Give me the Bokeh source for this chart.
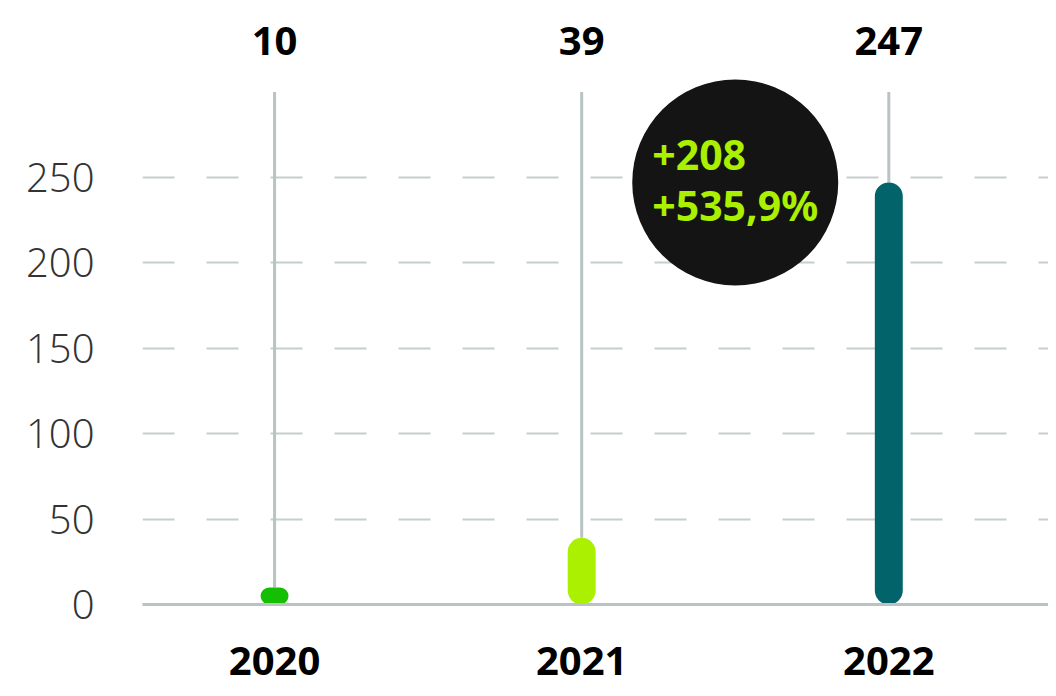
from bokeh.plotting import figure
from bokeh.models import Range1d, FixedTicker, LinearAxis, ColumnDataSource
from bokeh.core.properties import value
from bokeh.embed import file_html
from bokeh.resources import INLINE

years = ["2020", "2021", "2022"]
values = [10, 39, 247]
colors = ["#13bf00", "#aaf000", "#02636b"]
y_ticks = [0, 50, 100, 150, 200, 250]
badge_lines = ["+208", "+535,9%"]
stem_top = 300

xs = list(range(len(years)))

p = figure(width=1048, height=688, output_backend="svg", toolbar_location=None,
           x_range=Range1d(-0.43, 2.52), y_range=Range1d(0, 309),
           min_border_left=142, min_border_right=0, min_border_top=76, min_border_bottom=84,
           x_axis_location="below")
p.outline_line_color = None
p.background_fill_color = "white"
p.border_fill_color = "white"

# grid
p.xgrid.grid_line_color = None
p.ygrid.ticker = FixedTicker(ticks=y_ticks[1:])
p.ygrid.grid_line_color = "#c5d0ce"
p.ygrid.grid_line_width = 2
p.ygrid.grid_line_dash = "32 32"

# y axis
p.yaxis.ticker = FixedTicker(ticks=y_ticks)
p.yaxis.axis_line_color = None
p.yaxis.major_tick_line_color = None
p.yaxis.minor_tick_line_color = None
p.yaxis.major_label_standoff = 42
p.yaxis.major_label_text_font = "Open Sans Light, Open Sans"
p.yaxis.major_label_text_font_size = "40px"
p.yaxis.major_label_text_color = "#333333"

# bottom x axis (years)
p.xaxis.ticker = FixedTicker(ticks=xs)
p.xaxis.major_label_overrides = {i: y for i, y in enumerate(years)}
p.xaxis.axis_line_color = "#b8c4c4"
p.xaxis.axis_line_width = 3
p.xaxis.major_tick_line_color = None
p.xaxis.minor_tick_line_color = None
p.xaxis.major_label_standoff = 36
p.xaxis.major_label_text_font = "Noto Sans"
p.xaxis.major_label_text_font_style = "bold"
p.xaxis.major_label_text_font_size = "40px"
p.xaxis.major_label_text_color = "#000000"

# top axis (values)
top = LinearAxis(ticker=FixedTicker(ticks=xs),
                 major_label_overrides={i: str(v) for i, v in enumerate(values)})
top.axis_line_color = None
top.major_tick_line_color = None
top.minor_tick_line_color = None
top.major_label_standoff = 16
top.major_label_text_font = "Noto Sans"
top.major_label_text_font_style = "bold"
top.major_label_text_font_size = "40px"
top.major_label_text_color = "#000000"
p.add_layout(top, "above")

src = ColumnDataSource(dict(x=xs, v=values, c=colors, t=[stem_top] * len(xs)))

# stems
p.segment(x0="x", y0="v", x1="x", y1="t", source=src, line_color="#b8c4c4", line_width=3)

# bars
p.vbar(x="x", top="v", bottom=0, width=0.091, fill_color="c", line_color=None,
       border_radius=14, source=src)

# badge
bx = (xs[1] + xs[2]) / 2
by = values[2]
p.scatter(x=[bx], y=[by], size=206, marker="circle", fill_color="#141414", line_color=None)
p.text(x=[bx, bx], y=[by, by], text=badge_lines, x_offset=[-83, -83], y_offset=[-27, 23],
       text_font=value("Noto Sans"), text_font_style="bold", text_font_size="41px",
       text_color="#aaf000", text_align="left", text_baseline="middle")

open("out.html", "w").write(file_html(p, INLINE))
